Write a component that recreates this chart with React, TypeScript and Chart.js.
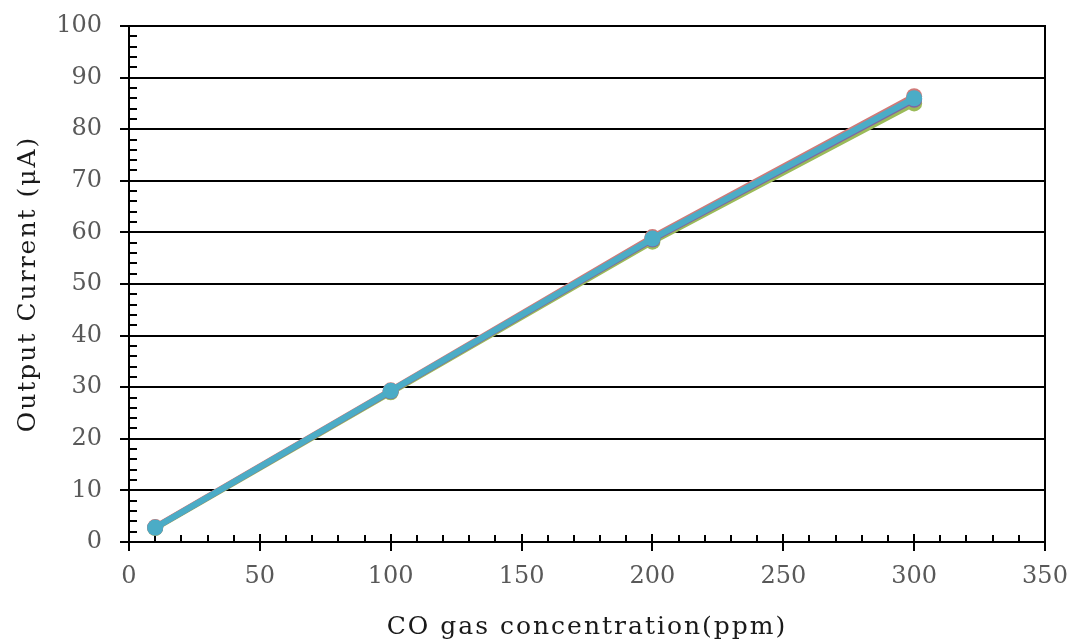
import React, { useEffect, useRef } from "react";
import { Chart, registerables } from "chart.js";

Chart.register(...registerables);

const concentrations = [10, 100, 200, 300];
const seriesAqua = [2.8, 29.3, 58.8, 86.0];
const seriesRed = [2.9, 29.4, 59.1, 86.4];
const seriesPurple = [2.8, 29.2, 58.6, 85.7];
const seriesGreen = [2.7, 29.0, 58.2, 85.0];

const seriesNames = ["Sensor 1", "Sensor 2", "Sensor 3", "Sensor 4"];
const seriesColors = ["#4BACC6", "#D07A78", "#8064A2", "#9BBB59"];

const xTitle = "CO gas concentration(ppm)";
const yTitle = "Output Current (μA)";

const X_MIN = 0, X_MAX = 350, X_MAJOR = 50, X_MINOR = 10;
const Y_MIN = 0, Y_MAX = 100, Y_MAJOR = 10, Y_MINOR = 2;

const W = 1072, H = 641;

const framePlugin = {
  id: "frameTicks",
  beforeDatasetsDraw(chart: any) {
    const { ctx, chartArea, scales } = chart;
    const { left, right, top, bottom } = chartArea;
    const x = scales.x, y = scales.y;
    ctx.save();
    ctx.strokeStyle = "#000";
    ctx.lineWidth = 2;
    const line = (x1: number, y1: number, x2: number, y2: number) => {
      ctx.beginPath();
      ctx.moveTo(x1, y1);
      ctx.lineTo(x2, y2);
      ctx.stroke();
    };
    line(Math.round(right), top - 1, Math.round(right), bottom);
    line(left, Math.round(top), right, Math.round(top));
    for (let v = X_MIN; v <= X_MAX; v += X_MINOR) {
      const px = Math.round(x.getPixelForValue(v));
      if (v % X_MAJOR === 0) line(px, bottom - 8, px, bottom + 9);
      else line(px, bottom - 7, px, bottom);
    }
    for (let v = Y_MIN; v <= Y_MAX; v += Y_MINOR) {
      const py = Math.round(y.getPixelForValue(v));
      if (v % Y_MAJOR === 0) line(left - 9, py, left + 8, py);
      else line(left, py, left + 8, py);
    }
    ctx.restore();
  },
  beforeDraw(chart: any) {
    for (const id of ["x", "y"]) {
      const s = chart.scales[id];
      if (s && !s.__patched) {
        const orig = s.drawTitle;
        s.drawTitle = function (...args: any[]) {
          const c = this.ctx;
          c.save();
          try { (c as any).letterSpacing = "2px"; } catch (e) {}
          orig.apply(this, args);
          c.restore();
        };
        s.__patched = true;
      }
    }
  },
};

function zeroPad(scale: any) {
  scale.paddingTop = 0;
  scale.paddingBottom = 0;
  scale.paddingLeft = 0;
  scale.paddingRight = 0;
}

export default function App() {
  const ref = useRef<HTMLCanvasElement | null>(null);
  useEffect(() => {
    if (!ref.current) return;
    const allSeries = [seriesAqua, seriesRed, seriesPurple, seriesGreen];
    const chart = new Chart(ref.current, {
      type: "line",
      data: {
        datasets: allSeries.map((s, i) => ({
          label: seriesNames[i],
          data: concentrations.map((c, j) => ({ x: c, y: s[j] })),
          borderColor: seriesColors[i],
          backgroundColor: seriesColors[i],
          pointBackgroundColor: seriesColors[i],
          pointBorderColor: seriesColors[i],
          borderWidth: 6,
          pointRadius: 8,
          pointBorderWidth: 0,
          tension: 0,
        })),
      },
      options: {
        animation: false,
        responsive: false,
        devicePixelRatio: 1,
        layout: { padding: { top: 26, right: 27, left: 0, bottom: 0 } },
        plugins: { legend: { display: false }, tooltip: { enabled: false } },
        scales: {
          x: {
            type: "linear",
            min: X_MIN,
            max: X_MAX,
            ticks: {
              stepSize: X_MAJOR,
              color: "#595959",
              font: { family: "DejaVu Serif", size: 24 },
              padding: 20,
              maxRotation: 0,
            },
            grid: { display: false, drawTicks: false },
            border: { display: true, color: "#000", width: 2 },
            title: {
              display: true,
              text: xTitle,
              color: "#1a1a1a",
              font: { family: "DejaVu Serif", size: 25, lineHeight: 0.8 },
            },
            afterFit(scale: any) {
              scale.height = 99;
              zeroPad(scale);
            },
          },
          y: {
            type: "linear",
            min: Y_MIN,
            max: Y_MAX,
            ticks: {
              stepSize: Y_MAJOR,
              color: "#595959",
              font: { family: "DejaVu Serif", size: 24 },
              padding: 27,
            },
            grid: { color: "#000", lineWidth: 2, drawTicks: false },
            border: { display: true, color: "#000", width: 2 },
            title: {
              display: true,
              text: yTitle,
              color: "#1a1a1a",
              font: { family: "DejaVu Serif", size: 25, lineHeight: 1.96 },
            },
            afterFit(scale: any) {
              scale.width = 129;
              zeroPad(scale);
            },
          },
        },
      },
      plugins: [framePlugin],
    });
    return () => chart.destroy();
  }, []);
  return (
    <div style={{ position: "absolute", left: 0, top: 0, width: W, height: H, background: "#fff" }}>
      <canvas ref={ref} width={W} height={H} style={{ width: W, height: H, display: "block" }} />
    </div>
  );
}
